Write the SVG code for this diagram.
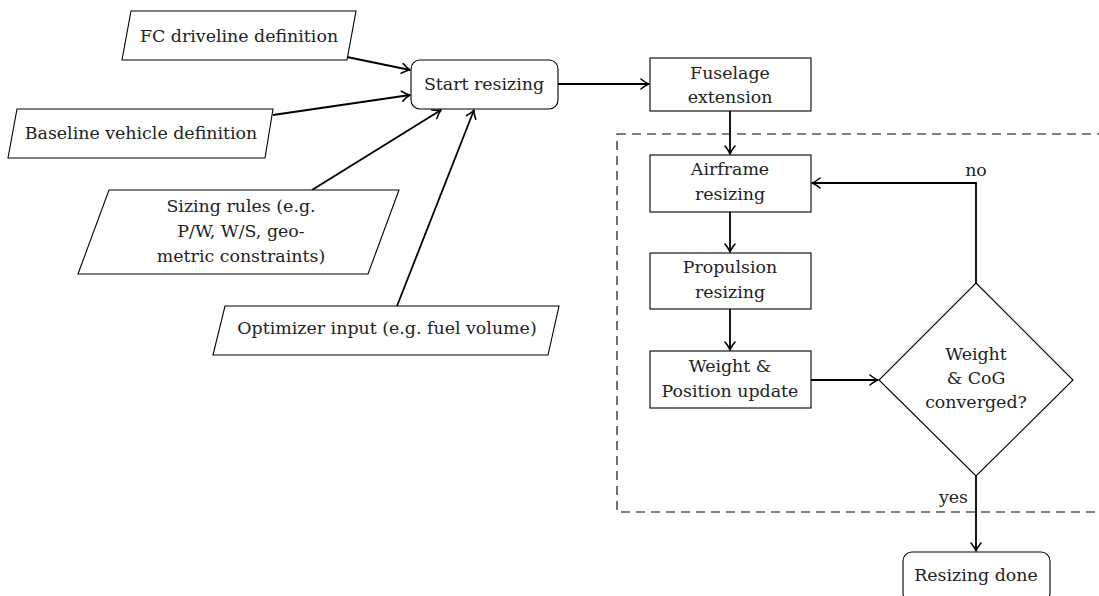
<svg xmlns="http://www.w3.org/2000/svg" width="1099" height="596" viewBox="0 0 1099 596">
<defs>
<style>
.n{fill:#fff;stroke:#000;stroke-width:1.1}
.t{font-family:'DejaVu Serif',serif;font-size:17.4px;fill:#222;text-anchor:middle}
.c{fill:none;stroke:#000;stroke-width:1.8}
.d{fill:none;stroke:#000;stroke-width:1.1;stroke-dasharray:9 6}
</style>
<marker id="ar" viewBox="-10 -6 12 12" refX="0" refY="0" markerWidth="12" markerHeight="12" markerUnits="userSpaceOnUse" orient="auto">
<path d="M-8,-5 Q-3,-1 0,0 Q-3,1 -8,5" fill="none" stroke="#000" stroke-width="1.6" stroke-linecap="round" stroke-linejoin="round"/>
</marker>
</defs>
<rect x="0" y="0" width="1099" height="596" fill="#fff"/>
<rect class="d" x="617" y="134" width="500" height="378"/>
<g id="connectors">
<path class="c" d="M347,57 L410,70" marker-end="url(#ar)"/>
<path class="c" d="M273,115 L410,95" marker-end="url(#ar)"/>
<path class="c" d="M312,190 L441,110" marker-end="url(#ar)"/>
<path class="c" d="M397,306 L474,110" marker-end="url(#ar)"/>
<path class="c" d="M558,84 L649,84" marker-end="url(#ar)"/>
<path class="c" d="M730,111 L730,154" marker-end="url(#ar)"/>
<path class="c" d="M730,212 L730,252" marker-end="url(#ar)"/>
<path class="c" d="M730,309 L730,350" marker-end="url(#ar)"/>
<path class="c" d="M811,380 L878,380" marker-end="url(#ar)"/>
<path class="c" d="M976,283 V183 H812" marker-end="url(#ar)"/>
<path class="c" d="M976,476 V551" marker-end="url(#ar)"/>
<text class="t" x="976" y="176">no</text>
<text class="t" x="968" y="503" style="text-anchor:end">yes</text>
</g>
<g id="fc">
<polygon class="n" points="131,11 356,11 347,60 122,60"/>
<text class="t" x="239" y="42">FC driveline definition</text>
</g>
<g id="baseline">
<polygon class="n" points="17,109 273,109 265,158 8,158"/>
<text class="t" x="141" y="139">Baseline vehicle definition</text>
</g>
<g id="sizing">
<polygon class="n" points="109,190 399,190 368,274 78,274"/>
<text class="t" x="241" y="212">Sizing rules (e.g.</text>
<text class="t" x="241" y="237">P/W, W/S, geo-</text>
<text class="t" x="241" y="262">metric constraints)</text>
</g>
<g id="optimizer">
<polygon class="n" points="225,306 559,306 548,355 213,355"/>
<text class="t" x="387" y="334">Optimizer input (e.g. fuel volume)</text>
</g>
<g id="start">
<rect class="n" x="411" y="60" width="147" height="49" rx="9"/>
<text class="t" x="484" y="90">Start resizing</text>
</g>
<g id="fuselage">
<rect class="n" x="650" y="58" width="161" height="53"/>
<text class="t" x="730" y="79">Fuselage</text>
<text class="t" x="730" y="103">extension</text>
</g>
<g id="airframe">
<rect class="n" x="650" y="155" width="161" height="57"/>
<text class="t" x="730" y="175">Airframe</text>
<text class="t" x="730" y="200">resizing</text>
</g>
<g id="propulsion">
<rect class="n" x="650" y="253" width="161" height="56"/>
<text class="t" x="730" y="273">Propulsion</text>
<text class="t" x="730" y="298">resizing</text>
</g>
<g id="weight">
<rect class="n" x="650" y="351" width="161" height="57"/>
<text class="t" x="730" y="372">Weight &amp;</text>
<text class="t" x="730" y="397">Position update</text>
</g>
<g id="converged">
<polygon class="n" points="976,283 1073,380 976,476 879,380"/>
<text class="t" x="976" y="360">Weight</text>
<text class="t" x="976" y="384">&amp; CoG</text>
<text class="t" x="976" y="408">converged?</text>
</g>
<g id="done">
<rect class="n" x="903" y="552" width="147" height="50" rx="9"/>
<text class="t" x="976" y="581">Resizing done</text>
</g>
</svg>
